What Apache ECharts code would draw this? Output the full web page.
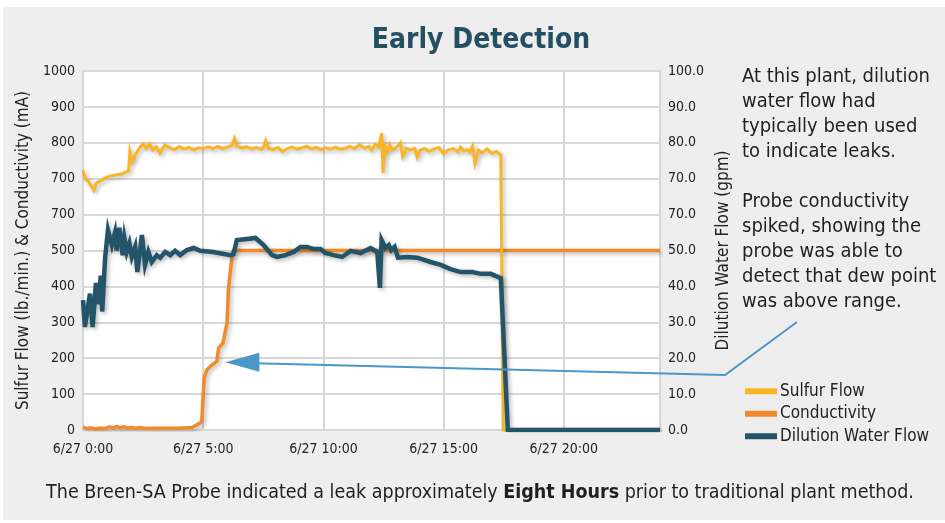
<!DOCTYPE html>
<html>
<head>
<meta charset="utf-8">
<script src="https://cdn.jsdelivr.net/npm/echarts@6/dist/echarts.min.js"></script>
<style>
html,body{margin:0;padding:0;background:#fff;}
#chart{width:945px;height:523px;}
</style>
</head>
<body>
<div id="chart"></div>
<script>
// ---- data: [hours since 6/27 0:00, value] ----
const xTickLabels = ['6/27 0:00', '6/27 5:00', '6/27 10:00', '6/27 15:00', '6/27 20:00'];
const leftTickLabels = ['0', '100', '200', '300', '400', '500', '700', '700', '800', '900', '1000'];
const rightTickLabels = ['0.0', '10.0', '20.0', '30.0', '40.0', '50.0', '70.0', '70.0', '80.0', '90.0', '100.0'];

const sulfurFlow = [
  [0, 724], [0.1, 700], [0.25, 690], [0.45, 668], [0.55, 688], [0.75, 695], [1.0, 705], [1.3, 710], [1.6, 713], [1.9, 722],
  [1.95, 775], [2.05, 748], [2.2, 770], [2.4, 790], [2.5, 797], [2.63, 785], [2.77, 797], [2.9, 780], [3.05, 789], [3.2, 771],
  [3.4, 794], [3.6, 786], [3.8, 781], [4.0, 789], [4.2, 783], [4.4, 787], [4.6, 780], [4.8, 786], [5.0, 784], [5.2, 789],
  [5.4, 783], [5.6, 790], [5.8, 784], [6.0, 788], [6.2, 793], [6.3, 812], [6.4, 790], [6.6, 786], [6.8, 789], [7.0, 783],
  [7.2, 787], [7.4, 782], [7.5, 786], [7.6, 806], [7.7, 785], [7.9, 781], [8.1, 787], [8.3, 776], [8.5, 784], [8.7, 788],
  [8.9, 782], [9.1, 786], [9.3, 790], [9.5, 783], [9.7, 787], [9.9, 781], [10.1, 786], [10.3, 783], [10.5, 788], [10.7, 782],
  [10.9, 785], [11.1, 790], [11.3, 784], [11.5, 795], [11.7, 785], [11.9, 790], [12.0, 780], [12.15, 795], [12.3, 788], [12.42, 827],
  [12.48, 716], [12.55, 790], [12.65, 775], [12.75, 795], [12.85, 780], [13.0, 785], [13.2, 800], [13.3, 762], [13.45, 785], [13.6, 780],
  [13.8, 784], [13.9, 760], [14.0, 778], [14.2, 784], [14.4, 776], [14.6, 782], [14.8, 787], [15.0, 770], [15.2, 780], [15.4, 784],
  [15.6, 774], [15.7, 788], [15.85, 777], [16.0, 781], [16.1, 774], [16.2, 790], [16.3, 743], [16.45, 780], [16.6, 772], [16.8, 783],
  [17.0, 770], [17.2, 776], [17.38, 766], [17.48, 0], [24, 0]
];

const conductivity = [
  [0, 8], [0.15, 4], [0.3, 6], [0.5, 3], [0.7, 5], [0.9, 4], [1.1, 9], [1.25, 5], [1.4, 10], [1.55, 6],
  [1.7, 9], [1.85, 5], [2.0, 7], [2.2, 5], [2.4, 6], [2.6, 4], [3.0, 5], [3.5, 5], [4.0, 5], [4.53, 7],
  [4.81, 17], [4.94, 23], [5.04, 145], [5.15, 167], [5.36, 181], [5.57, 192], [5.64, 228], [5.82, 242], [5.99, 298], [6.05, 390],
  [6.1, 426], [6.2, 482], [6.24, 500], [24, 500]
];

const dilutionFlow = [
  [0, 36.2], [0.08, 28.7], [0.29, 38], [0.4, 28.7], [0.54, 41], [0.64, 35], [0.74, 43], [0.8, 33], [0.92, 48], [1.04, 55.7],
  [1.2, 51.5], [1.33, 55], [1.4, 50], [1.51, 56.3], [1.65, 48.7], [1.72, 53.5], [1.82, 49.6], [1.93, 52], [2.03, 48.2], [2.17, 51],
  [2.26, 44], [2.45, 54.3], [2.58, 46], [2.72, 49.6], [2.86, 46.8], [3.07, 48.7], [3.21, 48], [3.42, 49.6], [3.63, 48.7], [3.83, 49.9],
  [4.04, 48.7], [4.32, 50.1], [4.6, 50.7], [4.88, 49.9], [5.42, 49.6], [6.13, 48.7], [6.26, 49], [6.4, 52.9], [6.82, 53.2], [7.17, 53.5],
  [7.51, 51.5], [7.86, 48.7], [8.07, 48.2], [8.42, 48.7], [8.76, 49.6], [9.04, 51], [9.32, 51], [9.6, 50.4], [9.88, 50.4], [10.08, 49.3],
  [10.43, 48.7], [10.78, 48.2], [11.13, 49.9], [11.54, 49.3], [11.96, 50.7], [12.24, 49.6], [12.35, 39.6], [12.42, 52.9], [12.58, 50.7], [12.72, 51.5],
  [12.82, 50.1], [12.96, 51], [13.1, 48], [13.49, 48.2], [13.9, 48], [14.46, 46.8], [14.88, 46], [15.29, 44.8], [15.71, 44], [16.2, 44],
  [16.54, 43.5], [16.96, 43.5], [17.38, 42.3], [17.67, 0], [24, 0]
];

const seriesNames = ['Sulfur Flow', 'Conductivity', 'Dilution Water Flow'];
const colors = ['#f9b526', '#f08a2b', '#245469'];

const FONT = '"Liberation Sans Narrow", "DejaVu Sans Condensed", "Roboto", sans-serif';
const chart = echarts.init(document.getElementById('chart'), null, {renderer: 'canvas'});

const shadow = {shadowColor: 'rgba(0,0,0,0.28)', shadowBlur: 4, shadowOffsetX: 2, shadowOffsetY: 2};

const option = {
  animation: false,
  textStyle: {fontFamily: FONT},
  grid: {left: 83, right: 285, top: 71, bottom: 93, show: true, backgroundColor: '#ffffff', borderColor: '#d3d3d3', borderWidth: 1.5},
  legend: {
    orient: 'vertical', left: 740, top: 376, itemWidth: 32, itemHeight: 6, itemGap: 2,
    icon: 'rect', data: seriesNames,
    textStyle: {fontFamily: FONT, fontSize: 17, color: '#222', lineHeight: 20.5, padding: [0, 0, 0, -2]},
    selectedMode: false
  },
  xAxis: {
    type: 'value', min: 0, max: 24, interval: 5,
    axisLine: {show: false}, axisTick: {show: false},
    splitLine: {show: true, lineStyle: {color: '#d8d8d8', width: 2}},
    axisLabel: {
      color: '#222', fontSize: 14, fontFamily: FONT, margin: 12,
      formatter: v => (v % 5 === 0 && xTickLabels[v / 5]) ? xTickLabels[v / 5] : ''
    }
  },
  yAxis: [
    {
      type: 'value', min: 0, max: 1000, interval: 100, position: 'left',
      name: 'Sulfur Flow (lb./min.) & Conductivity (mA)', nameLocation: 'middle', nameGap: 42,
      nameTextStyle: {fontFamily: FONT, fontSize: 17, color: '#222'},
      axisLine: {show: false}, axisTick: {show: false},
      splitLine: {show: true, lineStyle: {color: '#d8d8d8', width: 2}},
      axisLabel: {color: '#222', fontSize: 14, fontFamily: FONT, margin: 8,
        formatter: v => leftTickLabels[Math.round(v / 100)]}
    },
    {
      type: 'value', min: 0, max: 100, interval: 10, position: 'right',
      name: 'Dilution Water Flow (gpm)', nameLocation: 'middle', nameGap: 49, nameRotate: 90,
      nameTextStyle: {fontFamily: FONT, fontSize: 17, color: '#222'},
      axisLine: {show: false}, axisTick: {show: false}, splitLine: {show: false},
      axisLabel: {color: '#222', fontSize: 14, fontFamily: FONT, margin: 8,
        formatter: v => rightTickLabels[Math.round(v / 10)]}
    }
  ],
  series: [
    {name: seriesNames[0], type: 'line', yAxisIndex: 0, data: sulfurFlow, showSymbol: false, z: 3,
      color: colors[0], lineStyle: Object.assign({width: 3, color: colors[0], join: 'miter', miterLimit: 8}, shadow)},
    {name: seriesNames[1], type: 'line', yAxisIndex: 0, data: conductivity, showSymbol: false, z: 2,
      color: colors[1], lineStyle: Object.assign({width: 3.5, color: colors[1]}, shadow)},
    {name: seriesNames[2], type: 'line', yAxisIndex: 1, data: dilutionFlow, showSymbol: false, z: 4,
      color: colors[2], lineStyle: Object.assign({width: 4.5, color: colors[2], join: 'miter', miterLimit: 8}, shadow)}
  ]
};
chart.setOption(option);

// annotation arrow pointing at the conductivity step
const tip = chart.convertToPixel({gridIndex: 0}, [5.92, 189]);
const arrowColor = '#4a97c8';
chart.setOption({
  graphic: [
    {type: 'rect', z: -100, silent: true, shape: {x: 3, y: 7, width: 942, height: 513}, style: {fill: '#eeeeee'}},
    {type: 'text', z: 100, style: {x: 481, y: 41, text: 'Early Detection', align: 'center', verticalAlign: 'middle',
      font: 'bold 28px ' + FONT, fill: '#234f63'}},
    {type: 'text', z: 100, style: {x: 742, y: 64.5, text:
      'At this plant, dilution\nwater flow had\ntypically been used\nto indicate leaks.\n\nProbe conductivity\nspiked, showing the\nprobe was able to\ndetect that dew point\nwas above range.',
      font: '20px ' + FONT, lineHeight: 25, fill: '#1f1f1f', verticalAlign: 'top'}},
    {type: 'text', z: 100, style: {x: 480, y: 493, align: 'center', verticalAlign: 'middle',
      text: '{n|The Breen-SA Probe indicated a leak approximately }{b|Eight Hours}{n| prior to traditional plant method.}',
      rich: {n: {fontFamily: FONT, fontSize: 19.5, fill: '#1f1f1f'}, b: {fontFamily: FONT, fontSize: 19.5, fontWeight: 'bold', fill: '#1f1f1f'}}}},
    {type: 'polyline', z: 100, shape: {points: [[tip[0] + 30, tip[1] + 1], [725, 375], [797, 322]]},
      style: {stroke: arrowColor, lineWidth: 2, fill: null}},
    {type: 'polygon', z: 100, shape: {points: [[tip[0], tip[1]], [tip[0] + 34, tip[1] - 9.5], [tip[0] + 34, tip[1] + 9.5]]},
      style: {fill: arrowColor}}
  ]
});
</script>
</body>
</html>
